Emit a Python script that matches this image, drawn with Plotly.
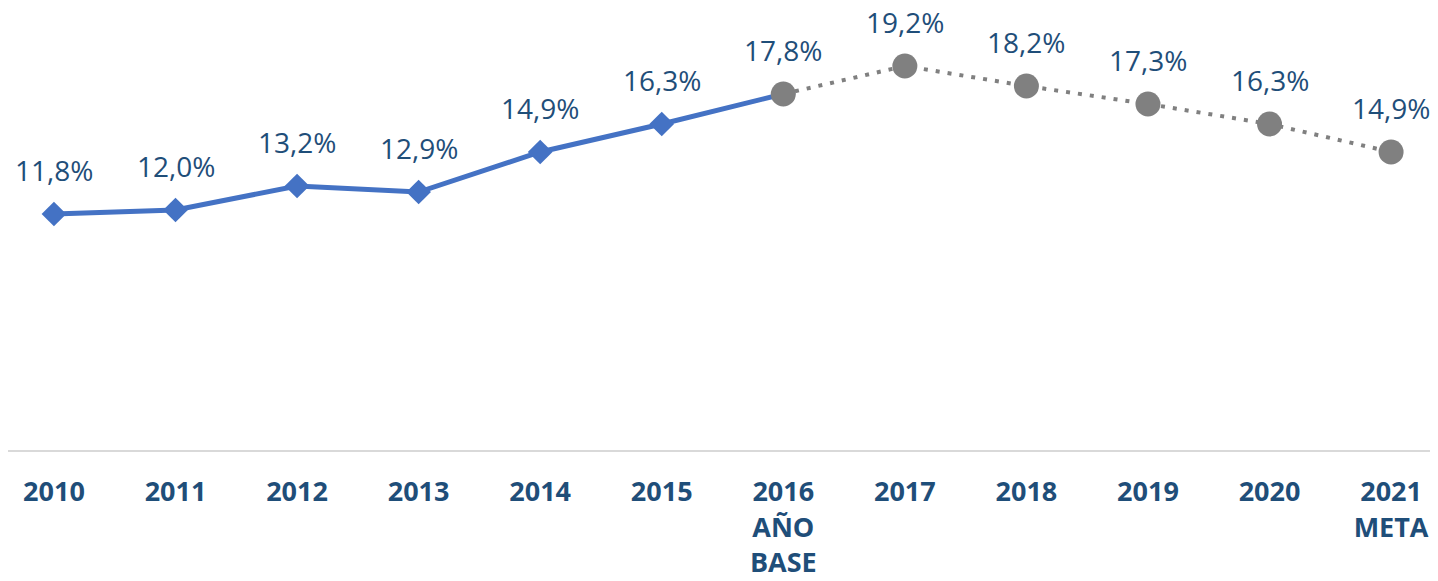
import plotly.graph_objects as go

categories = ["2010", "2011", "2012", "2013", "2014", "2015", "2016", "2017", "2018", "2019", "2020", "2021"]
tick_labels = ["2010", "2011", "2012", "2013", "2014", "2015", "2016<br>AÑO<br>BASE",
               "2017", "2018", "2019", "2020", "2021<br>META"]
hist_years = ["2010", "2011", "2012", "2013", "2014", "2015", "2016"]
hist_values = [11.8, 12.0, 13.2, 12.9, 14.9, 16.3, 17.8]
proj_years = ["2016", "2017", "2018", "2019", "2020", "2021"]
proj_values = [17.8, 19.2, 18.2, 17.3, 16.3, 14.9]

label_values = [11.8, 12.0, 13.2, 12.9, 14.9, 16.3, 17.8, 19.2, 18.2, 17.3, 16.3, 14.9]

TXT = "#1F4E79"
FONT = "Open Sans"

fig = go.Figure()
fig.add_trace(go.Scatter(
    x=hist_years, y=hist_values, mode="lines+markers",
    line=dict(color="#4472C4", width=5),
    marker=dict(symbol="diamond", size=19, color="#4472C4"),
    hoverinfo="skip", showlegend=False))
fig.add_trace(go.Scatter(
    x=proj_years, y=proj_values, mode="lines+markers",
    line=dict(color="#808080", width=4, dash="4px,8px"),
    marker=dict(symbol="circle", size=25, color="#808080"),
    hoverinfo="skip", showlegend=False))

# category axis: annotation x uses the category's serial index
for i, v in enumerate(label_values):
    fig.add_annotation(x=i, y=v, text=f"{v:.1f}%".replace(".", ","),
                       showarrow=False, yshift=44, xref="x", yref="y",
                       font=dict(family=FONT, size=28, color=TXT))

fig.update_layout(
    width=1430, height=573,
    margin=dict(l=0, r=0, t=0, b=131),
    paper_bgcolor="white", plot_bgcolor="white",
    xaxis=dict(type="category", categoryorder="array", categoryarray=categories,
               tickmode="array", tickvals=categories, ticktext=tick_labels,
               range=[-0.378, 11.386], showgrid=False, zeroline=False,
               showline=True, linecolor="#D9D9D9", linewidth=2,
               ticks="", ticklabelstandoff=17, automargin=False,
               tickfont=dict(family=FONT, size=27, color=TXT, weight="bold")),
    yaxis=dict(range=[0, 22.1], showgrid=False, zeroline=False,
               showticklabels=False, showline=False, automargin=False),
)

fig.write_html("out.html")
